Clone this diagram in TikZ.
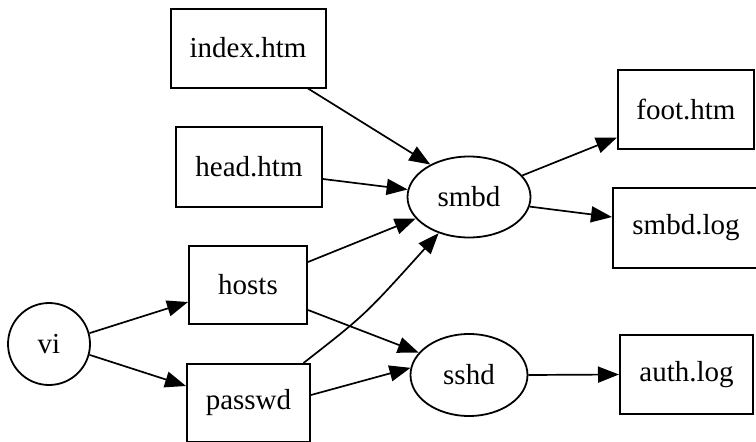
\documentclass[tikz,border=0pt]{standalone}
\usepackage{fontspec}
\setmainfont{Liberation Serif}
\usetikzlibrary{arrows.meta,calc,shapes.geometric}
\begin{document}
\begin{tikzpicture}[x=1pt,y=-1pt,
  every node/.style={font=\fontsize{29}{33}\selectfont, inner sep=0pt},
  filebox/.style={draw, line width=2pt, rectangle},
  procell/.style={draw, line width=1.8pt, ellipse},
  proccirc/.style={draw, line width=1.8pt, circle},
  conn/.style={line width=1.7pt, -{Triangle[length=21pt,width=16pt]}}
]
\useasboundingbox (0,0) rectangle (756,442);
\node[filebox, minimum width=155pt, minimum height=79pt] (index) at (248,48) {index.htm};
\node[filebox, minimum width=146pt, minimum height=80pt] (head) at (249,167) {head.htm};
\node[filebox, minimum width=118pt, minimum height=78pt] (hosts) at (248,285) {hosts};
\node[filebox, minimum width=123pt, minimum height=78pt] (passwd) at (248.5,403) {passwd};
\node[proccirc, minimum size=82pt] (vi) at (49,344) {vi};
\node[procell, minimum width=123pt, minimum height=81pt] (smbd) at (469,197) {smbd};
\node[procell, minimum width=117pt, minimum height=82pt] (sshd) at (469,375) {sshd};
\node[filebox, minimum width=136pt, minimum height=79pt] (foot) at (686,109.5) {foot.htm};
\node[filebox, minimum width=146pt, minimum height=80pt] (smbdlog) at (686,228) {smbd.log};
\node[filebox, minimum width=133pt, minimum height=79pt] (auth) at (686.5,374.5) {auth.log};

\draw[conn] (vi.15) -- ([yshift=-17pt]hosts.west);
\draw[conn] (vi.-15) -- ([yshift=17pt]passwd.west);
\draw[conn] ([xshift=60pt]index.south) -- (smbd.140);
\draw[conn] ([yshift=-12pt]head.east) -- (smbd.173);
\draw[conn] ([yshift=23pt]hosts.east) -- (smbd.202);
\draw[conn] ([yshift=-25pt]hosts.east) -- (sshd.156);
\draw[conn] ([xshift=55pt]passwd.north) .. controls (365,315) .. (smbd.230);
\draw[conn] ([yshift=8pt]passwd.east) -- (sshd.173);
\draw[conn] (smbd.22) -- ([yshift=-28pt]foot.west);
\draw[conn] (smbd.-9) -- ([yshift=11pt]smbdlog.west);
\draw[conn] (sshd.east) -- (auth.west);
\end{tikzpicture}
\end{document}
